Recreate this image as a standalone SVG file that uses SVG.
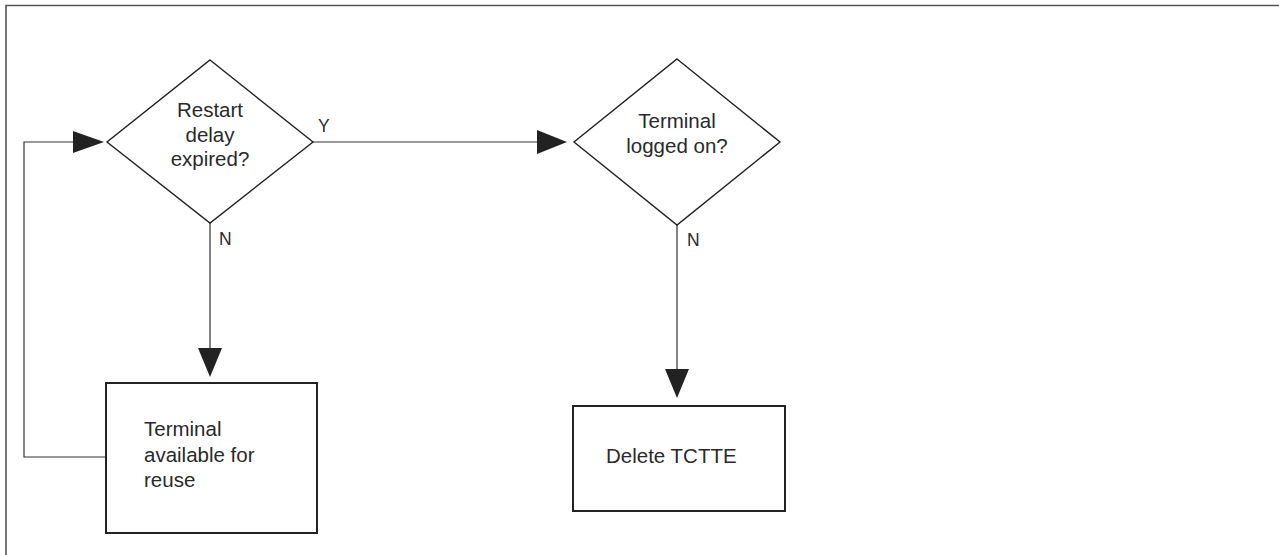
<svg xmlns="http://www.w3.org/2000/svg" width="1279" height="555" viewBox="0 0 1279 555">
<style>
.frame{fill:none;stroke:#555;stroke-width:1.6}
.dia{fill:#fff;stroke:#222;stroke-width:1.4}
.box{fill:#fff;stroke:#222;stroke-width:2}
.con{fill:none;stroke:#333;stroke-width:1.2}
.arr{fill:#222;stroke:none}
text{font-family:"Liberation Sans",Arial,Helvetica,sans-serif;font-size:20.5px;fill:#2a2a2a}
.c{text-anchor:middle}
.lbl{font-size:17.5px}
</style>
<rect width="1279" height="555" fill="#fff"/>
<path class="frame" d="M6,556 V5.5 H1280"/>
<g id="connectors">
<path class="con" d="M313,142 H540"/>
<polygon class="arr" points="537,130 567,142 537,154"/>
<path class="con" d="M210,223 V350"/>
<polygon class="arr" points="198,348 222,348 210,377"/>
<path class="con" d="M677,225 V372"/>
<polygon class="arr" points="665,369 689,369 677,398"/>
<path class="con" d="M106,457 H24 V142 H76"/>
<polygon class="arr" points="73,131 104,142 73,153"/>
<text class="lbl" x="318" y="132">Y</text>
<text class="lbl" x="219" y="245">N</text>
<text class="lbl" x="687" y="246">N</text>
</g>
<g id="restart-delay">
<polygon class="dia" points="210,60 313,142 210,223 107,142"/>
<text class="c" x="210" y="117">Restart</text>
<text class="c" x="210" y="141.5">delay</text>
<text class="c" x="210" y="166">expired?</text>
</g>
<g id="terminal-logged-on">
<polygon class="dia" points="677,59 780,142 677,225 574,142"/>
<text class="c" x="677" y="127.5">Terminal</text>
<text class="c" x="677" y="153">logged on?</text>
</g>
<g id="terminal-available">
<rect class="box" x="106" y="383" width="211" height="150"/>
<text x="144" y="436">Terminal</text>
<text x="144" y="461.5">available for</text>
<text x="144" y="486.5">reuse</text>
</g>
<g id="delete-tctte">
<rect class="box" x="573" y="406" width="212" height="105"/>
<text x="606" y="463">Delete TCTTE</text>
</g>
</svg>
